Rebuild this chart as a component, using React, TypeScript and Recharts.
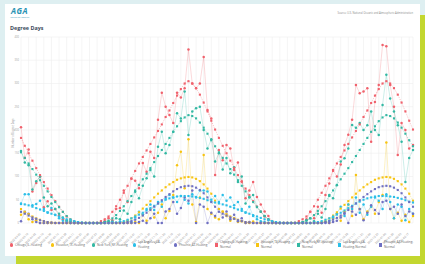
import React from "react";
import { LineChart, Line, XAxis, YAxis, CartesianGrid } from "recharts";

// weekly degree days, Mar 2022 - Feb 2024
const dates = [
  "2022-03-05", "2022-03-12", "2022-03-19", "2022-03-26", "2022-04-02", "2022-04-09", "2022-04-16", "2022-04-23", "2022-04-30", "2022-05-07", "2022-05-14", "2022-05-21", "2022-05-28",
  "2022-06-04", "2022-06-11", "2022-06-18", "2022-06-25", "2022-07-02", "2022-07-09", "2022-07-16", "2022-07-23", "2022-07-30", "2022-08-06", "2022-08-13", "2022-08-20", "2022-08-27",
  "2022-09-03", "2022-09-10", "2022-09-17", "2022-09-24", "2022-10-01", "2022-10-08", "2022-10-15", "2022-10-22", "2022-10-29", "2022-11-05", "2022-11-12", "2022-11-19", "2022-11-26",
  "2022-12-03", "2022-12-10", "2022-12-17", "2022-12-24", "2022-12-31", "2023-01-07", "2023-01-14", "2023-01-21", "2023-01-28", "2023-02-04", "2023-02-11", "2023-02-18", "2023-02-25",
  "2023-03-04", "2023-03-11", "2023-03-18", "2023-03-25", "2023-04-01", "2023-04-08", "2023-04-15", "2023-04-22", "2023-04-29", "2023-05-06", "2023-05-13", "2023-05-20", "2023-05-27",
  "2023-06-03", "2023-06-10", "2023-06-17", "2023-06-24", "2023-07-01", "2023-07-08", "2023-07-15", "2023-07-22", "2023-07-29", "2023-08-05", "2023-08-12", "2023-08-19", "2023-08-26",
  "2023-09-02", "2023-09-09", "2023-09-16", "2023-09-23", "2023-09-30", "2023-10-07", "2023-10-14", "2023-10-21", "2023-10-28", "2023-11-04", "2023-11-11", "2023-11-18", "2023-11-25",
  "2023-12-02", "2023-12-09", "2023-12-16", "2023-12-23", "2023-12-30", "2024-01-06", "2024-01-13", "2024-01-20", "2024-01-27", "2024-02-03", "2024-02-10", "2024-02-17", "2024-02-24",
];

const chicagoHeating = [
  206, 140, 158, 68, 86, 100, 34, 47, 28, 30, 16, 8, 4,
  2, 0, 0, 0, 0, 0, 0, 0, 0, 4, 10, 6, 30,
  32, 70, 45, 95, 91, 75, 129, 110, 153, 140, 222, 280, 250,
  232, 215, 280, 270, 290, 373, 300, 290, 300, 357, 243, 225, 103,
  157, 135, 168, 160, 114, 130, 90, 53, 70, 88, 56, 40, 25,
  15, 3, 0, 0, 0, 0, 0, 0, 0, 0, 8, 24, 10,
  35, 22, 60, 85, 114, 100, 126, 168, 190, 222, 297, 279, 283,
  290, 175, 260, 297, 383, 380, 297, 250, 146, 215, 200, 160, 168,
];
const houstonHeating = [
  18, 22, 8, 2, 6, 0, 0, 0, 0, 0, 0, 0, 0,
  0, 0, 0, 0, 0, 0, 0, 0, 0, 0, 0, 0, 0,
  0, 0, 0, 0, 2, 0, 18, 5, 30, 12, 22, 40, 10,
  26, 60, 124, 153, 75, 180, 40, 2, 55, 146, 30, 20, 12,
  8, 25, 15, 5, 10, 2, 4, 0, 0, 3, 0, 0, 0,
  0, 0, 0, 0, 0, 0, 0, 0, 0, 0, 0, 0, 0,
  0, 0, 2, 0, 10, 20, 5, 25, 40, 15, 103, 30, 8,
  25, 35, 20, 45, 60, 173, 30, 10, 22, 5, 18, 2, 15,
];
const newYorkHeating = [
  155, 130, 124, 72, 90, 100, 55, 36, 42, 30, 20, 12, 6,
  3, 1, 0, 0, 0, 0, 0, 0, 0, 2, 4, 3, 10,
  8, 27, 20, 45, 67, 53, 80, 96, 114, 100, 164, 196, 150,
  168, 196, 236, 225, 283, 189, 240, 247, 250, 200, 160, 180, 132,
  150, 115, 140, 107, 120, 88, 100, 42, 55, 60, 35, 25, 15,
  8, 2, 0, 0, 0, 0, 0, 0, 0, 2, 6, 10, 4,
  20, 12, 30, 60, 53, 81, 132, 139, 160, 211, 205, 215, 200,
  210, 240, 200, 189, 254, 319, 268, 240, 210, 175, 88, 140, 157,
];
const losAngelesHeating = [
  41, 62, 62, 38, 41, 48, 30, 22, 32, 18, 10, 5, 2,
  0, 0, 0, 0, 0, 0, 0, 0, 0, 0, 0, 2, 0,
  3, 0, 5, 2, 12, 24, 18, 30, 40, 28, 45, 35, 52,
  60, 55, 45, 58, 50, 42, 62, 55, 70, 70, 68, 50, 58,
  45, 60, 48, 55, 38, 45, 30, 22, 35, 15, 8, 4, 2,
  0, 0, 0, 0, 0, 0, 0, 0, 0, 0, 0, 0, 0,
  0, 0, 2, 5, 12, 20, 35, 15, 40, 30, 55, 22, 40,
  18, 35, 55, 48, 30, 62, 45, 10, 40, 35, 6, 30, 20,
];
const phoenixHeating = [
  4, 24, 20, 8, 2, 0, 0, 0, 0, 0, 0, 0, 0,
  0, 0, 0, 0, 0, 0, 0, 0, 0, 0, 0, 0, 0,
  0, 0, 0, 0, 0, 2, 5, 0, 10, 20, 0, 0, 25,
  30, 45, 20, 32, 55, 48, 70, 0, 40, 35, 0, 22, 15,
  30, 12, 25, 8, 18, 4, 10, 0, 2, 0, 0, 0, 0,
  0, 0, 0, 0, 0, 0, 0, 0, 0, 0, 0, 0, 0,
  0, 0, 0, 0, 2, 5, 12, 20, 0, 25, 18, 30, 6,
  22, 38, 28, 20, 45, 48, 30, 35, 20, 40, 15, 25, 20,
];

const chicagoNormal = [
  183, 166, 150, 134, 118, 103, 88, 74, 60, 47, 35, 24, 14,
  7, 3, 1, 0, 0, 0, 0, 0, 4, 8, 14, 24, 36,
  50, 65, 80, 96, 112, 128, 142, 156, 170, 184, 198, 212, 228,
  242, 258, 274, 288, 300, 305, 300, 290, 276, 259, 240, 220, 201,
  183, 166, 150, 134, 118, 103, 88, 74, 60, 47, 35, 24, 14,
  7, 3, 1, 0, 0, 0, 0, 0, 4, 8, 14, 24, 36,
  50, 65, 80, 96, 112, 128, 142, 156, 170, 184, 198, 212, 228,
  242, 258, 274, 288, 300, 305, 300, 290, 276, 259, 240, 220, 201,
];
const houstonNormal = [
  30, 24, 19, 14, 10, 7, 4, 2, 1, 0, 0, 0, 0,
  0, 0, 0, 0, 0, 0, 0, 0, 0, 0, 0, 0, 0,
  0, 2, 5, 10, 16, 23, 31, 39, 47, 55, 63, 70, 77,
  83, 88, 93, 96, 98, 99, 98, 95, 90, 83, 74, 63, 48,
  30, 24, 19, 14, 10, 7, 4, 2, 1, 0, 0, 0, 0,
  0, 0, 0, 0, 0, 0, 0, 0, 0, 0, 0, 0, 0,
  0, 2, 5, 10, 16, 23, 31, 39, 47, 55, 63, 70, 77,
  83, 88, 93, 96, 98, 99, 98, 95, 90, 83, 74, 63, 48,
];
const newYorkNormal = [
  152, 140, 128, 116, 104, 92, 80, 68, 56, 45, 34, 24, 15,
  8, 3, 1, 0, 0, 0, 0, 0, 0, 2, 5, 10, 17,
  26, 36, 47, 58, 70, 82, 94, 106, 118, 131, 144, 157, 170,
  183, 196, 208, 219, 227, 232, 230, 225, 216, 205, 192, 178, 165,
  152, 140, 128, 116, 104, 92, 80, 68, 56, 45, 34, 24, 15,
  8, 3, 1, 0, 0, 0, 0, 0, 0, 2, 5, 10, 17,
  26, 36, 47, 58, 70, 82, 94, 106, 118, 131, 144, 157, 170,
  183, 196, 208, 219, 227, 232, 230, 225, 216, 205, 192, 178, 165,
];
const losAngelesNormal = [
  42, 40, 38, 35, 32, 29, 26, 23, 20, 17, 14, 11, 8,
  6, 4, 2, 1, 0, 0, 0, 0, 0, 0, 0, 0, 1,
  2, 4, 7, 10, 14, 18, 22, 27, 32, 37, 42, 46, 50,
  53, 55, 57, 58, 58, 58, 57, 56, 54, 52, 49, 46, 44,
  42, 40, 38, 35, 32, 29, 26, 23, 20, 17, 14, 11, 8,
  6, 4, 2, 1, 0, 0, 0, 0, 0, 0, 0, 0, 1,
  2, 4, 7, 10, 14, 18, 22, 27, 32, 37, 42, 46, 50,
  53, 55, 57, 58, 58, 58, 57, 56, 54, 52, 49, 46, 44,
];
const phoenixNormal = [
  24, 20, 16, 12, 9, 6, 4, 2, 1, 0, 0, 0, 0,
  0, 0, 0, 0, 0, 0, 0, 0, 0, 0, 0, 0, 0,
  0, 0, 2, 4, 7, 11, 16, 22, 28, 35, 42, 49, 56,
  62, 68, 73, 77, 79, 80, 79, 76, 71, 64, 55, 45, 35,
  24, 20, 16, 12, 9, 6, 4, 2, 1, 0, 0, 0, 0,
  0, 0, 0, 0, 0, 0, 0, 0, 0, 0, 0, 0, 0,
  0, 0, 2, 4, 7, 11, 16, 22, 28, 35, 42, 49, 56,
  62, 68, 73, 77, 79, 80, 79, 76, 71, 64, 55, 45, 35,
];

const yTicks = [0, 50, 100, 150, 200, 250, 300, 350, 400];

const RED = "#f0616c";
const YELLOW = "#f7c412";
const TEAL = "#33b8a3";
const BLUE = "#2bbfe8";
const PURPLE = "#6f70c2";

const series = [
  { key: "chiH", name: "Chicago,IL-Heating", color: RED, values: chicagoHeating, normal: false },
  { key: "houH", name: "Houston,TX-Heating", color: YELLOW, values: houstonHeating, normal: false },
  { key: "nyH", name: "New York,NY-Heating", color: TEAL, values: newYorkHeating, normal: false },
  { key: "laH", name: "Los Angeles,CA-Heating", color: BLUE, values: losAngelesHeating, normal: false },
  { key: "phxH", name: "Phoenix,AZ-Heating", color: PURPLE, values: phoenixHeating, normal: false },
  { key: "chiN", name: "Chicago,IL-Heating-Normal", color: RED, values: chicagoNormal, normal: true },
  { key: "houN", name: "Houston,TX-Heating-Normal", color: YELLOW, values: houstonNormal, normal: true },
  { key: "nyN", name: "New York,NY-Heating-Normal", color: TEAL, values: newYorkNormal, normal: true },
  { key: "laN", name: "Los Angeles,CA-Heating-Normal", color: BLUE, values: losAngelesNormal, normal: true },
  { key: "phxN", name: "Phoenix,AZ-Heating-Normal", color: PURPLE, values: phoenixNormal, normal: true },
];

const data = dates.map((date, i) => {
  const row: Record<string, string | number> = { date };
  series.forEach((s) => {
    row[s.key] = s.values[i];
  });
  return row;
});

const FONT = "'Open Sans', 'Noto Sans', sans-serif";

function SquareDot(props: any) {
  const { cx, cy, fill } = props;
  if (cx == null || cy == null) return null;
  return <rect x={cx - 1.05} y={cy - 1.05} width={2.1} height={2.1} fill={fill} />;
}

function XTick(props: any) {
  const { x, y, payload } = props;
  return (
    <text
      x={x}
      y={y + 3}
      transform={`rotate(-45 ${x} ${y + 3})`}
      textAnchor="end"
      fontSize={2.8}
      fill="#999999"
      fontFamily={FONT}
    >
      {payload.value}
    </text>
  );
}

export default function App() {
  return (
    <div style={{ position: "absolute", left: 0, top: 0, width: 425, height: 264, overflow: "hidden", background: "#deeff1", fontFamily: FONT }}>
      <div style={{ position: "absolute", left: 16, top: 15, right: 0, bottom: 0, background: "#c3d72f" }} />
      <div style={{ position: "absolute", left: 5, top: 4, width: 415, height: 252, background: "#ffffff" }} />

      {/* logo */}
      <div style={{ position: "absolute", left: 11, top: 6, fontSize: 8, fontWeight: 700, fontStyle: "italic", color: "#2a93b4", letterSpacing: 0.5, lineHeight: "10px" }}>
        AGA
      </div>
      <div style={{ position: "absolute", left: 10, top: 16, fontSize: 1.6, color: "#2a93b4", whiteSpace: "nowrap" }}>
        American Gas Association
      </div>
      <div style={{ position: "absolute", right: 12, top: 11, fontSize: 2.6, color: "#8a8a8a", whiteSpace: "nowrap" }}>
        Source: U.S. National Oceanic and Atmospheric Administration
      </div>
      <div style={{ position: "absolute", left: 10, top: 24, fontSize: 5.4, fontWeight: 700, color: "#3d4b5c", whiteSpace: "nowrap" }}>
        Degree Days
      </div>
      <div
        style={{
          position: "absolute",
          left: 13,
          top: 133,
          fontSize: 2.6,
          color: "#8a8a8a",
          whiteSpace: "nowrap",
          transform: "translate(-50%, -50%) rotate(-90deg)",
        }}
      >
        Number of Degree Days
      </div>

      <div style={{ position: "absolute", left: 0, top: 0 }}>
        <LineChart width={425} height={264} data={data} margin={{ top: 37, right: 12, bottom: 23, left: 9 }}>
          <CartesianGrid stroke="#efefef" strokeWidth={0.6} />
          <XAxis dataKey="date" interval={1} tick={<XTick />} tickLine={false} axisLine={false} height={18} />
          <YAxis
            domain={[0, 400]}
            ticks={yTicks}
            tickLine={false}
            axisLine={false}
            width={12}
            tickSize={0}
            tickMargin={2}
            tick={{ fontSize: 2.6, fill: "#a0a0a0", fontFamily: FONT }}
          />
          {series.map((s) => (
            <Line
              key={s.key}
              dataKey={s.key}
              name={s.name}
              type="linear"
              stroke={s.color}
              strokeWidth={0.7}
              strokeOpacity={s.normal ? 0.55 : 0.35}
              strokeDasharray={s.normal ? "1.2 1.2" : undefined}
              dot={s.normal ? <SquareDot fill={s.color} /> : { r: 1.25, fill: s.color, stroke: "none" }}
              activeDot={false}
              isAnimationActive={false}
            />
          ))}
        </LineChart>
      </div>

      {/* legend */}
      <div style={{ position: "absolute", left: 10, top: 240, display: "flex" }}>
        {series.map((s) => (
          <div key={s.key} style={{ width: 41, height: 10, display: "flex", alignItems: "center" }}>
            <div
              style={{
                width: 3.4,
                height: 3.4,
                borderRadius: s.normal ? 0 : "50%",
                background: s.color,
                flex: "0 0 auto",
                marginRight: 1.6,
              }}
            />
            <div style={{ fontSize: 3.1, color: "#666", lineHeight: "5px", width: 32 }}>{s.name}</div>
          </div>
        ))}
      </div>
    </div>
  );
}
